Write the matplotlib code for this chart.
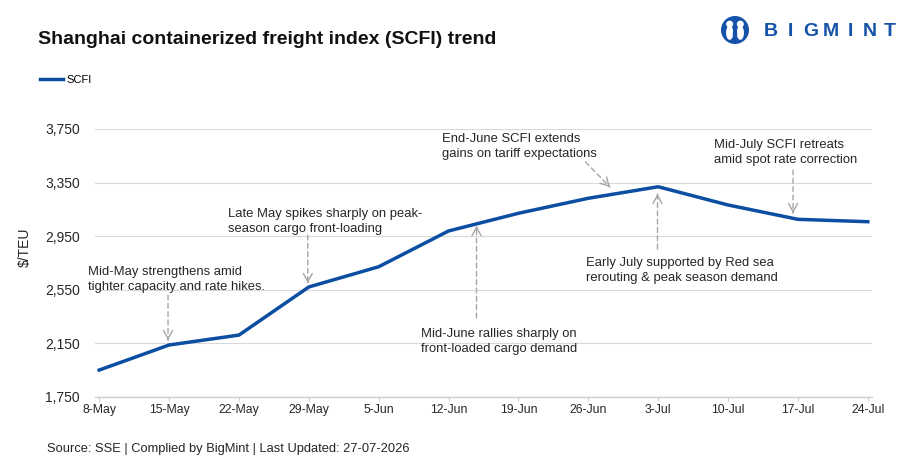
import numpy as np
import matplotlib
matplotlib.use("Agg")
import matplotlib.pyplot as plt
from matplotlib.patches import Circle, Ellipse

# SCFI weekly values ($/TEU)
dates = ['8-May', '15-May', '22-May', '29-May', '5-Jun', '12-Jun',
         '19-Jun', '26-Jun', '3-Jul', '10-Jul', '17-Jul', '24-Jul']
scfi = [1951, 2138, 2212, 2571, 2722, 2989, 3121, 3233, 3319, 3183, 3076, 3058]
y_ticks = [1750, 2150, 2550, 2950, 3350, 3750]

notes = [
    "Mid-May strengthens amid\ntighter capacity and rate hikes.",
    "Late May spikes sharply on peak-\nseason cargo front-loading",
    "Mid-June rallies sharply on\nfront-loaded cargo demand",
    "End-June SCFI extends\ngains on tariff expectations",
    "Early July supported by Red sea\nrerouting & peak season demand",
    "Mid-July SCFI retreats\namid spot rate correction",
]

# layout of the notes: text anchor (x, y) and arrow tail / tip in data units
note_text_xy = [(-0.16, 2728), (1.84, 3161), (4.61, 2265),
                (4.91, 3721), (6.97, 2795), (8.80, 3676)]
note_arrows = [((0.985, 2511), (0.985, 2175)),
               ((2.985, 2959), (2.985, 2601)),
               ((5.40, 2340), (5.40, 3026)),
               ((6.96, 3504), (7.31, 3317)),
               ((7.99, 2854), (7.99, 3265)),
               ((9.93, 3444), (9.93, 3123))]

LINE_BLUE = '#0b4ea2'
LOGO_BLUE = '#1553a8'
GRID = '#d9d9d9'
ARROW = '#a6a6a6'

plt.rcParams['font.family'] = ['Liberation Sans', 'DejaVu Sans']

W, H = 905, 474
fig = plt.figure(figsize=(W / 100, H / 100), dpi=100)
ax = fig.add_axes([95 / W, 1 - 397 / H, (872 - 95) / W, (397 - 129) / H])

x = np.arange(len(dates))
ax.plot(x, scfi, color=LINE_BLUE, lw=2.5, label='SCFI', solid_joinstyle='round', zorder=3)

ax.set_xlim(-0.06, len(dates) - 1 + 0.06)
ax.set_ylim(y_ticks[0], y_ticks[-1])
ax.set_xticks(x)
ax.set_xticklabels(dates, fontsize=8.8, color='#262626')
ax.set_yticks(y_ticks)
ax.set_yticklabels([f'{v:,}' for v in y_ticks], fontsize=10, color='#262626')
ax.tick_params(axis='y', length=0, pad=11)
ax.tick_params(axis='x', length=3, color='#cfcfcf', pad=2)
ax.grid(axis='y', color=GRID, lw=0.8)
ax.set_axisbelow(True)
for side in ['left', 'right', 'top']:
    ax.spines[side].set_visible(False)
ax.spines['bottom'].set_color('#cfcfcf')
ax.spines['bottom'].set_linewidth(1.0)

for text, (tx, ty), (tail, tip) in zip(notes, note_text_xy, note_arrows):
    ax.text(tx, ty, text, fontsize=9.4, color='#262626', ha='left', va='top',
            linespacing=1.33)
    # dashed shaft
    ax.annotate('', xy=tip, xytext=tail,
                arrowprops=dict(arrowstyle='-', color=ARROW, lw=1.0,
                                linestyle=(0, (3.5, 2.5)), shrinkA=0, shrinkB=0))
    # solid open head
    hx = tip[0] - (tip[0] - tail[0]) * 0.02
    hy = tip[1] - (tip[1] - tail[1]) * 0.02
    ax.annotate('', xy=tip, xytext=(hx, hy),
                arrowprops=dict(arrowstyle='->,head_length=0.45,head_width=0.25',
                                color=ARROW, lw=1.0, shrinkA=0, shrinkB=0,
                                mutation_scale=13))

# legend
ax.legend(loc='center left', bbox_to_anchor=(40 / W, 1 - 80 / H),
          bbox_transform=fig.transFigure, frameon=False, fontsize=8,
          handlelength=2.1, handletextpad=0.3, borderpad=0, borderaxespad=0)

# title, axis label, source
fig.text(38 / W, 1 - 40 / H, 'Shanghai containerized freight index (SCFI) trend',
         fontsize=14, fontweight='bold', color='#111111', va='center', ha='left')
fig.text(25 / W, 1 - 247 / H, '$/TEU', rotation=90, fontsize=10,
         color='#262626', ha='center', va='center')
fig.text(47 / W, 1 - 449 / H,
         'Source: SSE | Complied by BigMint | Last Updated: 27-07-2026',
         fontsize=9.3, color='#262626', ha='left', va='center')

# logo
lax = fig.add_axes([721 / W, 1 - 44 / H, 28 / W, 28 / H])
lax.set_xlim(-1, 1)
lax.set_ylim(-1, 1)
lax.set_aspect('equal')
lax.axis('off')
lax.add_patch(Circle((0, 0), 0.95, color=LOGO_BLUE))
for cx in (-0.38, 0.38):
    lax.add_patch(Circle((cx, 0.42), 0.2, color='white'))
    lax.add_patch(Ellipse((cx, -0.2), 0.42, 0.9, color='white'))
lax.add_patch(Ellipse((0, -0.3), 0.22, 0.6, color=LOGO_BLUE))
for i, ch in enumerate('BIGMINT'):
    fig.text((771 + i * 19.8) / W, 1 - 32 / H, ch, fontsize=14, fontweight='bold',
             color=LOGO_BLUE, ha='center', va='center')

fig.savefig('out.png', dpi=100)
